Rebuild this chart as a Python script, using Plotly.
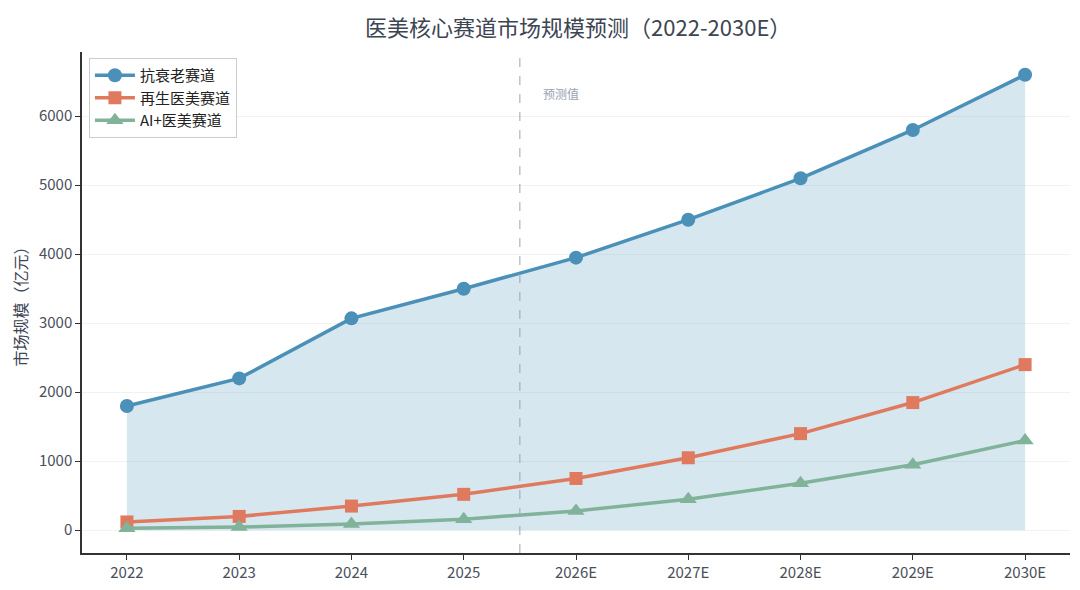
import plotly.graph_objects as go

years = ['2022', '2023', '2024', '2025', '2026E', '2027E', '2028E', '2029E', '2030E']
anti_aging = [1800, 2200, 3070, 3500, 3950, 4500, 5100, 5800, 6600]
regen = [120, 200, 350, 520, 750, 1050, 1400, 1850, 2400]
ai_med = [30, 45, 90, 160, 280, 450, 680, 950, 1300]

font_cn = 'Noto Sans CJK SC'
x = list(range(len(years)))

fig = go.Figure()

# shaded area under the anti-aging line
fig.add_trace(go.Scatter(x=x, y=anti_aging, mode='none', fill='tozeroy',
                         fillcolor='rgba(74,144,184,0.22)', showlegend=False, hoverinfo='skip'))

fig.add_trace(go.Scatter(x=x, y=anti_aging, mode='lines+markers', name='抗衰老赛道',
                         line=dict(color='#4a90b8', width=3.5),
                         marker=dict(symbol='circle', size=14, color='#4a90b8')))
fig.add_trace(go.Scatter(x=x, y=regen, mode='lines+markers', name='再生医美赛道',
                         line=dict(color='#e07a5f', width=3.5),
                         marker=dict(symbol='square', size=13, color='#e07a5f')))
fig.add_trace(go.Scatter(x=x, y=ai_med, mode='lines+markers', name='AI+医美赛道',
                         line=dict(color='#81b29a', width=3.5),
                         marker=dict(symbol='triangle-up', size=15, color='#81b29a')))

# split between actual and forecast
fig.add_shape(type='line', x0=3.5, x1=3.5, y0=0, y1=1, yref='paper',
              line=dict(color='#9aa5b1', width=1, dash='dash'))
fig.add_annotation(x=3.69, y=6330, text='预测值', showarrow=False, xanchor='left',
                   font=dict(family=font_cn, size=12, color='#98a2b3'))

fig.update_layout(
    width=1080, height=590,
    paper_bgcolor='white', plot_bgcolor='white',
    margin=dict(l=74, r=18, t=44, b=45),
    title=dict(text='医美核心赛道市场规模预测（2022-2030E）', x=0.528, y=0.978, yanchor='top',
               xanchor='center',
               font=dict(family=font_cn, size=22, color='#3d4553')),
    font=dict(family=font_cn, size=15, color='#4a4f5a'),
    legend=dict(x=0.007, y=0.988, xanchor='left', yanchor='top', itemwidth=40,
                bgcolor='rgba(255,255,255,0.9)', bordercolor='#cccccc', borderwidth=1,
                font=dict(family=font_cn, size=15, color='#222222'), tracegroupgap=2),
    xaxis=dict(tickmode='array', tickvals=x, ticktext=years, range=[-0.4, 8.4],
               showgrid=False, showline=True, linecolor='#333333', linewidth=1.5,
               ticks='outside', ticklen=5, tickcolor='#333333', zeroline=False),
    yaxis=dict(range=[-330, 6930], dtick=1000, showgrid=True, gridcolor='#f2f2f2',
               showline=True, linecolor='#333333', linewidth=1.5,
               ticks='outside', ticklen=5, tickcolor='#333333', zeroline=False,
               title=dict(text='市场规模（亿元）', standoff=8,
                          font=dict(family=font_cn, size=16, color='#3d4553'))),
)

fig.write_html("out.html")
